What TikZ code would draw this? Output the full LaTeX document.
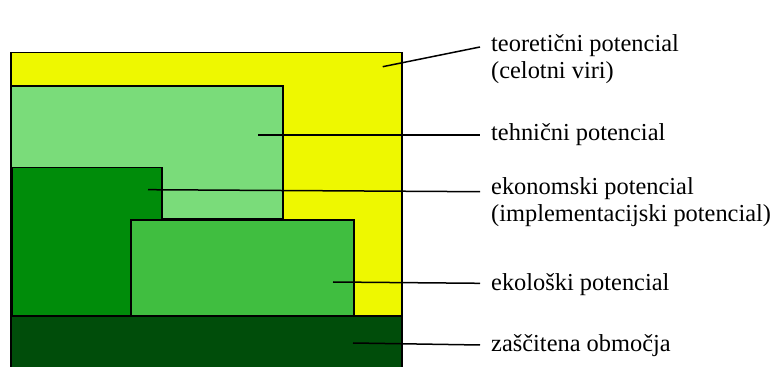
\documentclass[tikz,border=0pt]{standalone}
\usepackage{fontspec}
\setmainfont{Liberation Serif}
\definecolor{cyellow}{RGB}{238,248,0}
\definecolor{clight}{RGB}{122,220,122}
\definecolor{cdark}{RGB}{0,140,10}
\definecolor{cmed}{RGB}{64,190,64}
\definecolor{cdeep}{RGB}{0,77,10}
\begin{document}
\begin{tikzpicture}[x=1pt,y=1pt,
  area/.style={draw=black,line width=1.6pt},
  leader/.style={draw=black,line width=1.5pt},
  lbl/.style={anchor=base west,inner sep=0pt,font=\fontsize{24.4}{27}\selectfont}]
\useasboundingbox (0,0) rectangle (777,367);
\fill[white] (0,0) rectangle (777,367);
\begin{scope}
\clip (0,0) rectangle (777,367);
\path[area,fill=cyellow] (11,-5) rectangle (401.7,314.3);
\path[area,fill=clight] (11,148) rectangle (282.7,281);
\path[area,fill=cdark] (12,51) rectangle (161.7,199.3);
\path[area,fill=cmed] (131,51) rectangle (354,147);
\path[area,fill=cdeep] (11,-5) rectangle (401.7,51);
\end{scope}
% label texts
\node[lbl] (l1) at (491,315) {\begin{tabular}[t]{@{}l@{}}teoretični potencial\\(celotni viri)\end{tabular}};
\node[lbl] (l2) at (491,226) {tehnični potencial};
\node[lbl] (l3) at (491,172) {\begin{tabular}[t]{@{}l@{}}ekonomski potencial\\(implementacijski potencial)\end{tabular}};
\node[lbl] (l4) at (491,76) {ekološki potencial};
\node[lbl] (l5) at (491,15) {zaščitena območja};
% leader endpoints
\coordinate (a1) at (382.7,300.3);
\coordinate (b1) at (480,320);
\coordinate (a2) at (258,232);
\coordinate (b2) at (480,232);
\coordinate (a3) at (148,177.3);
\coordinate (b3) at (480,175.3);
\coordinate (a4) at (333,85);
\coordinate (b4) at (480,83.7);
\coordinate (a5) at (353,24);
\coordinate (b5) at (480,22);
\draw[leader] (a1) -- (b1);
\draw[leader] (a2) -- (b2);
\draw[leader] (a3) -- (b3);
\draw[leader] (a4) -- (b4);
\draw[leader] (a5) -- (b5);
\end{tikzpicture}
\end{document}
